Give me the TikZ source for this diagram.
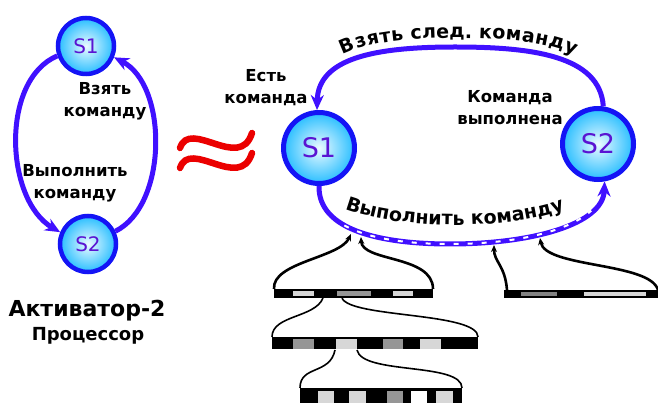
\documentclass[tikz,border=0pt]{standalone}
\usepackage{fontspec}
\setmainfont{DejaVu Sans}
\usetikzlibrary{arrows.meta,decorations.text}

\definecolor{flow}{RGB}{64,16,255}
\definecolor{ring}{RGB}{20,20,245}
\definecolor{glyph}{RGB}{90,20,210}
\definecolor{cyanout}{RGB}{40,190,255}
\definecolor{cyanin}{RGB}{235,250,255}
\definecolor{approx}{RGB}{235,0,0}
\definecolor{cellA}{RGB}{150,150,150}
\definecolor{cellB}{RGB}{215,215,215}
\definecolor{cellC}{RGB}{130,130,130}

\newcommand\arclbl{\fontsize{19}{19}\selectfont\bfseries}

\begin{document}
\begin{tikzpicture}[x=1pt,y=-1pt,
  state/.style={circle, draw=ring, inner color=cyanin, outer color=cyanout,
    text=glyph, inner sep=0pt},
  bigstate/.style={state, minimum size=71pt, line width=5pt,
    font=\fontsize{27}{27}\selectfont},
  smallstate/.style={state, minimum size=56pt, line width=4.5pt,
    font=\fontsize{20}{20}\selectfont},
  flowline/.style={draw=flow, line width=5pt,
    -{Stealth[length=15pt,width=13pt]}},
  tag/.style={align=center, inner sep=0pt,
    font=\fontsize{16.5}{22}\selectfont\bfseries},
  wire/.style={line width=2.6pt, -{Stealth[length=7pt,width=6pt]}},
  thinwire/.style={line width=1.6pt},
  bar/.style={fill=black, inner sep=0pt, outer sep=0pt, anchor=north west},
]
\useasboundingbox (0,0) rectangle (658,403);

% ---------- small cycle ----------
\node[smallstate] (s1l) at (86,46) {S1};
\node[smallstate] (s2l) at (88,244) {S2};
\draw[flowline] (s1l.199) .. controls (0,80) and (5,200) .. (s2l.157);
\draw[flowline] (s2l.25) .. controls (168,205) and (168,85) .. (s1l.-22);
\node[tag] (fetch) at (105,101) {Взять\\команду};
\node[tag] (exec) at (75,183) {Выполнить\\команду};
\node[inner sep=0pt, font=\fontsize{22}{22}\selectfont\bfseries] (title) at (87,311) {Активатор-2};
\node[inner sep=0pt, font=\fontsize{18}{18}\selectfont\bfseries] (sub) at (88,336) {Процессор};

% ---------- approximately equal ----------
\draw[approx, line width=6.5pt, line cap=round]
  (180,148) .. controls (190,118) and (240,172) .. (252,133);
\draw[approx, line width=6.5pt, line cap=round]
  (180,168) .. controls (190,138) and (240,192) .. (252,153);

% ---------- large cycle ----------
\node[bigstate] (s1r) at (319,148) {S1};
\node[bigstate] (s2r) at (598,144) {S2};

\draw[flowline] (s2r.82) .. controls (600,55) and (530,47) .. (455,47)
  .. controls (375,47) and (318,58) .. (s1r.93);
\path[decorate, decoration={text along path, text align=center, raise=9pt,
    text={|\arclbl|Взять след. команду}}]
  (317,108) .. controls (318,58) and (375,47) .. (455,47)
  .. controls (530,47) and (600,55) .. (603,107);

\draw[flowline] (s1r.south) .. controls (318,230) and (380,244) .. (450,244)
  .. controls (530,244) and (603,225) .. (s2r.-80);
\draw[white, line width=2pt, dash pattern=on 5pt off 9pt]
  (344.3,225.4) .. controls (368.9,239) and (408,244) .. (450,244)
  .. controls (510,244) and (566.1,233.3) .. (591.2,210.7);
\path[decorate, decoration={text along path, text align=center,
    text={|\arclbl|Выполнить команду}}]
  (320,195) .. controls (360,233) and (540,237) .. (590,196);

\node[tag] (has) at (266,88) {Есть\\команда};
\node[tag] (done) at (510,108) {Команда\\выполнена};

% ---------- memory strips ----------
\node[bar, minimum width=159pt, minimum height=9pt] (bar1) at (274,289) {};
\node[bar, minimum width=206pt, minimum height=12pt] (bar2) at (272,337) {};
\node[bar, minimum width=162pt, minimum height=18pt] (bar3) at (300,388) {};
\node[bar, minimum width=154pt, minimum height=8pt] (bar4) at (504,290) {};

\fill[cellB] (293,291) rectangle (314,296);
\fill[cellA] (337,291) rectangle (371,296);
\fill[cellB] (393,291) rectangle (413,296);

\fill[cellA] (293,339) rectangle (314,349);
\fill[cellB] (336,339) rectangle (357,349);
\fill[cellA] (383,339) rectangle (403,349);
\fill[cellB] (420,339) rectangle (441,349);

\fill[cellB] (318,391) rectangle (334,406);
\fill[cellB] (349,391) rectangle (366,406);
\fill[cellA] (387,391) rectangle (403,406);
\fill[white] (411,391) rectangle (427,406);
\fill[cellB] (436,391) rectangle (453,406);

\fill[cellC] (521,292) rectangle (557,296);
\fill[cellB] (584,292) rectangle (646,296);

% taps on the execution arc
\coordinate (tapA) at (351,234);
\coordinate (tapB) at (361,237);
\coordinate (tapC) at (494,245);
\coordinate (tapD) at (540,238);
\coordinate (cut1a) at (323,298);
\coordinate (cut1b) at (342,298);
\coordinate (cut2a) at (335,350);
\coordinate (cut2b) at (357,350);

\draw[wire] (bar1.north west) .. controls (272,262) and (340,258) .. (tapA);
\draw[wire] (bar1.north east) .. controls (433,255) and (362,262) .. (tapB);
\draw[wire] ([xshift=3pt]bar4.north west) .. controls (505,265) and (494,262) .. (tapC);
\draw[wire] (bar4.north east) .. controls (650,262) and (545,268) .. (tapD);

\draw[thinwire] (cut1a) .. controls (315,318) and (272,315) .. (bar2.north west);
\draw[thinwire] (cut1b) .. controls (350,318) and (478,312) .. (bar2.north east);
\draw[thinwire] (cut2a) .. controls (330,375) and (300,365) .. (bar3.north west);
\draw[thinwire] (cut2b) .. controls (362,375) and (462,362) .. (bar3.north east);
\end{tikzpicture}
\end{document}
